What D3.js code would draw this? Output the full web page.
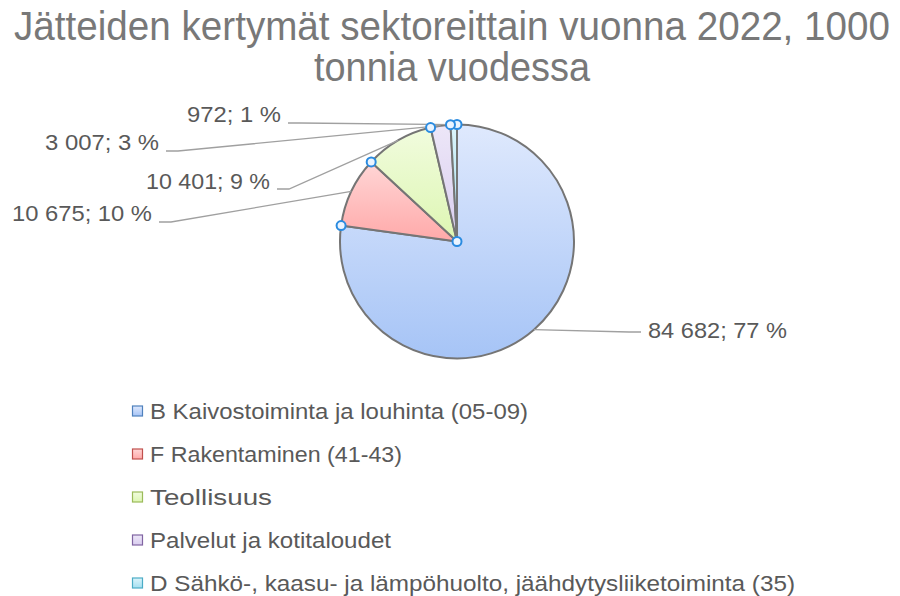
<!DOCTYPE html>
<html>
<head>
<meta charset="utf-8">
<script src="https://cdn.jsdelivr.net/npm/d3@7"></script>
<style>
  body { margin: 0; background: #fff; }
  svg { display: block; font-family: "Liberation Sans", Arial, sans-serif; }
</style>
</head>
<body>
<svg id="chart" width="900" height="596"></svg>
<script>
// data
var titleLines = ["Jätteiden kertymät sektoreittain vuonna 2022, 1000", "tonnia vuodessa"];
var categories = [
    "B Kaivostoiminta ja louhinta (05-09)",
    "F Rakentaminen (41-43)",
    "Teollisuus",
    "Palvelut ja kotitaloudet",
    "D Sähkö-, kaasu- ja lämpöhuolto, jäähdytysliiketoiminta (35)"
];
var values = [84682, 10675, 10401, 3007, 972];

// colours (top, bottom, border)
var topColors = ["#dfe9fd", "#ffd6d6", "#f1fcde", "#ede7f8", "#dcf4fb"];
var bottomColors = ["#a6c4f6", "#ffa9a9", "#ddf6b2", "#d9cdef", "#a4dff0"];
var borderColors = ["#4f81bd", "#c0504d", "#9bbb59", "#8064a2", "#4bacc6"];

var total = d3.sum(values);
var fmt = d3.formatLocale({ decimal: ",", thousands: " ", grouping: [3], currency: ["", ""] }).format(",d");

var svg = d3.select("#chart");
var defs = svg.append("defs");

categories.forEach(function(c, i) {
    var g = defs.append("linearGradient")
        .attr("id", "grad" + i)
        .attr("x1", 0).attr("y1", 0).attr("x2", 0).attr("y2", 1);
    g.append("stop").attr("offset", "0%").attr("stop-color", topColors[i]);
    g.append("stop").attr("offset", "100%").attr("stop-color", bottomColors[i]);
});

// title (slightly stretched vertically, narrow like the original)
var titleW = [876, 276];
svg.selectAll("text.title")
    .data(titleLines)
    .enter()
    .append("text")
    .attr("class", "title")
    .attr("transform", function(d, i) { return "translate(452," + (40 + i * 41) + ") scale(1,1.08)"; })
    .attr("text-anchor", "middle")
    .attr("font-size", 37)
    .attr("fill", "#787878")
    .attr("textLength", function(d, i) { return titleW[i]; })
    .attr("lengthAdjust", "spacingAndGlyphs")
    .text(function(d) { return d; });

// pie
var cx = 457, cy = 241.5, radius = 117;
var pie = d3.pie().value(function(d) { return d; }).sort(null);
var arcs = pie(values);
var arc = d3.arc().innerRadius(0).outerRadius(radius);

var g = svg.append("g").attr("transform", "translate(" + cx + "," + cy + ")");

g.selectAll("path.slice")
    .data(arcs)
    .enter()
    .append("path")
    .attr("class", "slice")
    .attr("d", arc)
    .attr("fill", function(d, i) { return "url(#grad" + i + ")"; })
    .attr("stroke", "#757575")
    .attr("stroke-width", 2)
    .attr("stroke-linejoin", "round");

function onArc(a, r) {
    return [Math.sin(a) * r, -Math.cos(a) * r];
}

// label layout: x is text edge, y baseline, line y
var labelPos = [
    { x: 648, y: 338, ly: 332, anchor: "start", w: 139 },
    { x: 152, y: 221, ly: 222, anchor: "end", w: 140 },
    { x: 270, y: 189, ly: 189, anchor: "end", w: 124 },
    { x: 159, y: 150, ly: 151, anchor: "end", w: 114 },
    { x: 281, y: 122, ly: 123, anchor: "end", w: 94 }
];

// leader lines
g.selectAll("path.leader")
    .data(arcs)
    .enter()
    .append("path")
    .attr("class", "leader")
    .attr("fill", "none")
    .attr("stroke", "#a0a0a0")
    .attr("stroke-width", 1.3)
    .attr("d", function(d, i) {
        var p = onArc((d.startAngle + d.endAngle) / 2, radius);
        var lp = labelPos[i];
        var ex, elb;
        if (lp.anchor === "end") { ex = lp.x + 7 - cx; elb = ex + 12; }
        else { ex = lp.x - 7 - cx; elb = ex - 12; }
        var ly = lp.ly - cy;
        return "M" + p[0] + "," + p[1] + "L" + elb + "," + ly + "L" + ex + "," + ly;
    });

// data labels
svg.selectAll("text.dlabel")
    .data(arcs)
    .enter()
    .append("text")
    .attr("class", "dlabel")
    .attr("x", function(d, i) { return labelPos[i].x; })
    .attr("y", function(d, i) { return labelPos[i].y; })
    .attr("text-anchor", function(d, i) { return labelPos[i].anchor; })
    .attr("font-size", 21.5)
    .attr("fill", "#595959")
    .attr("textLength", function(d, i) { return labelPos[i].w; })
    .attr("lengthAdjust", "spacingAndGlyphs")
    .text(function(d) { return fmt(d.data) + "; " + Math.round(d.data / total * 100) + " %"; });

// selection handles
var handlePts = arcs.map(function(d) { return onArc(d.startAngle, radius); });
handlePts.push([0, 0]);
g.selectAll("circle.handle")
    .data(handlePts)
    .enter()
    .append("circle")
    .attr("class", "handle")
    .attr("cx", function(d) { return d[0]; })
    .attr("cy", function(d) { return d[1]; })
    .attr("r", 4.5)
    .attr("fill", "#eaf4ff")
    .attr("stroke", "#2a8be0")
    .attr("stroke-width", 2);

// legend
var legendW = [378, 252, 122, 241, 645];
var legend = svg.selectAll("g.legend")
    .data(categories)
    .enter()
    .append("g")
    .attr("class", "legend")
    .attr("transform", function(d, i) { return "translate(132," + (411 + i * 43) + ")"; });

legend.append("rect")
    .attr("x", 0.5).attr("y", -5)
    .attr("width", 10).attr("height", 10)
    .attr("fill", function(d, i) { return "url(#grad" + i + ")"; })
    .attr("stroke", function(d, i) { return borderColors[i]; })
    .attr("stroke-width", 1.2);

legend.append("text")
    .attr("x", 18)
    .attr("y", 7.5)
    .attr("font-size", 21.5)
    .attr("fill", "#595959")
    .attr("textLength", function(d, i) { return legendW[i]; })
    .attr("lengthAdjust", "spacingAndGlyphs")
    .text(function(d) { return d; });
</script>
</body>
</html>
